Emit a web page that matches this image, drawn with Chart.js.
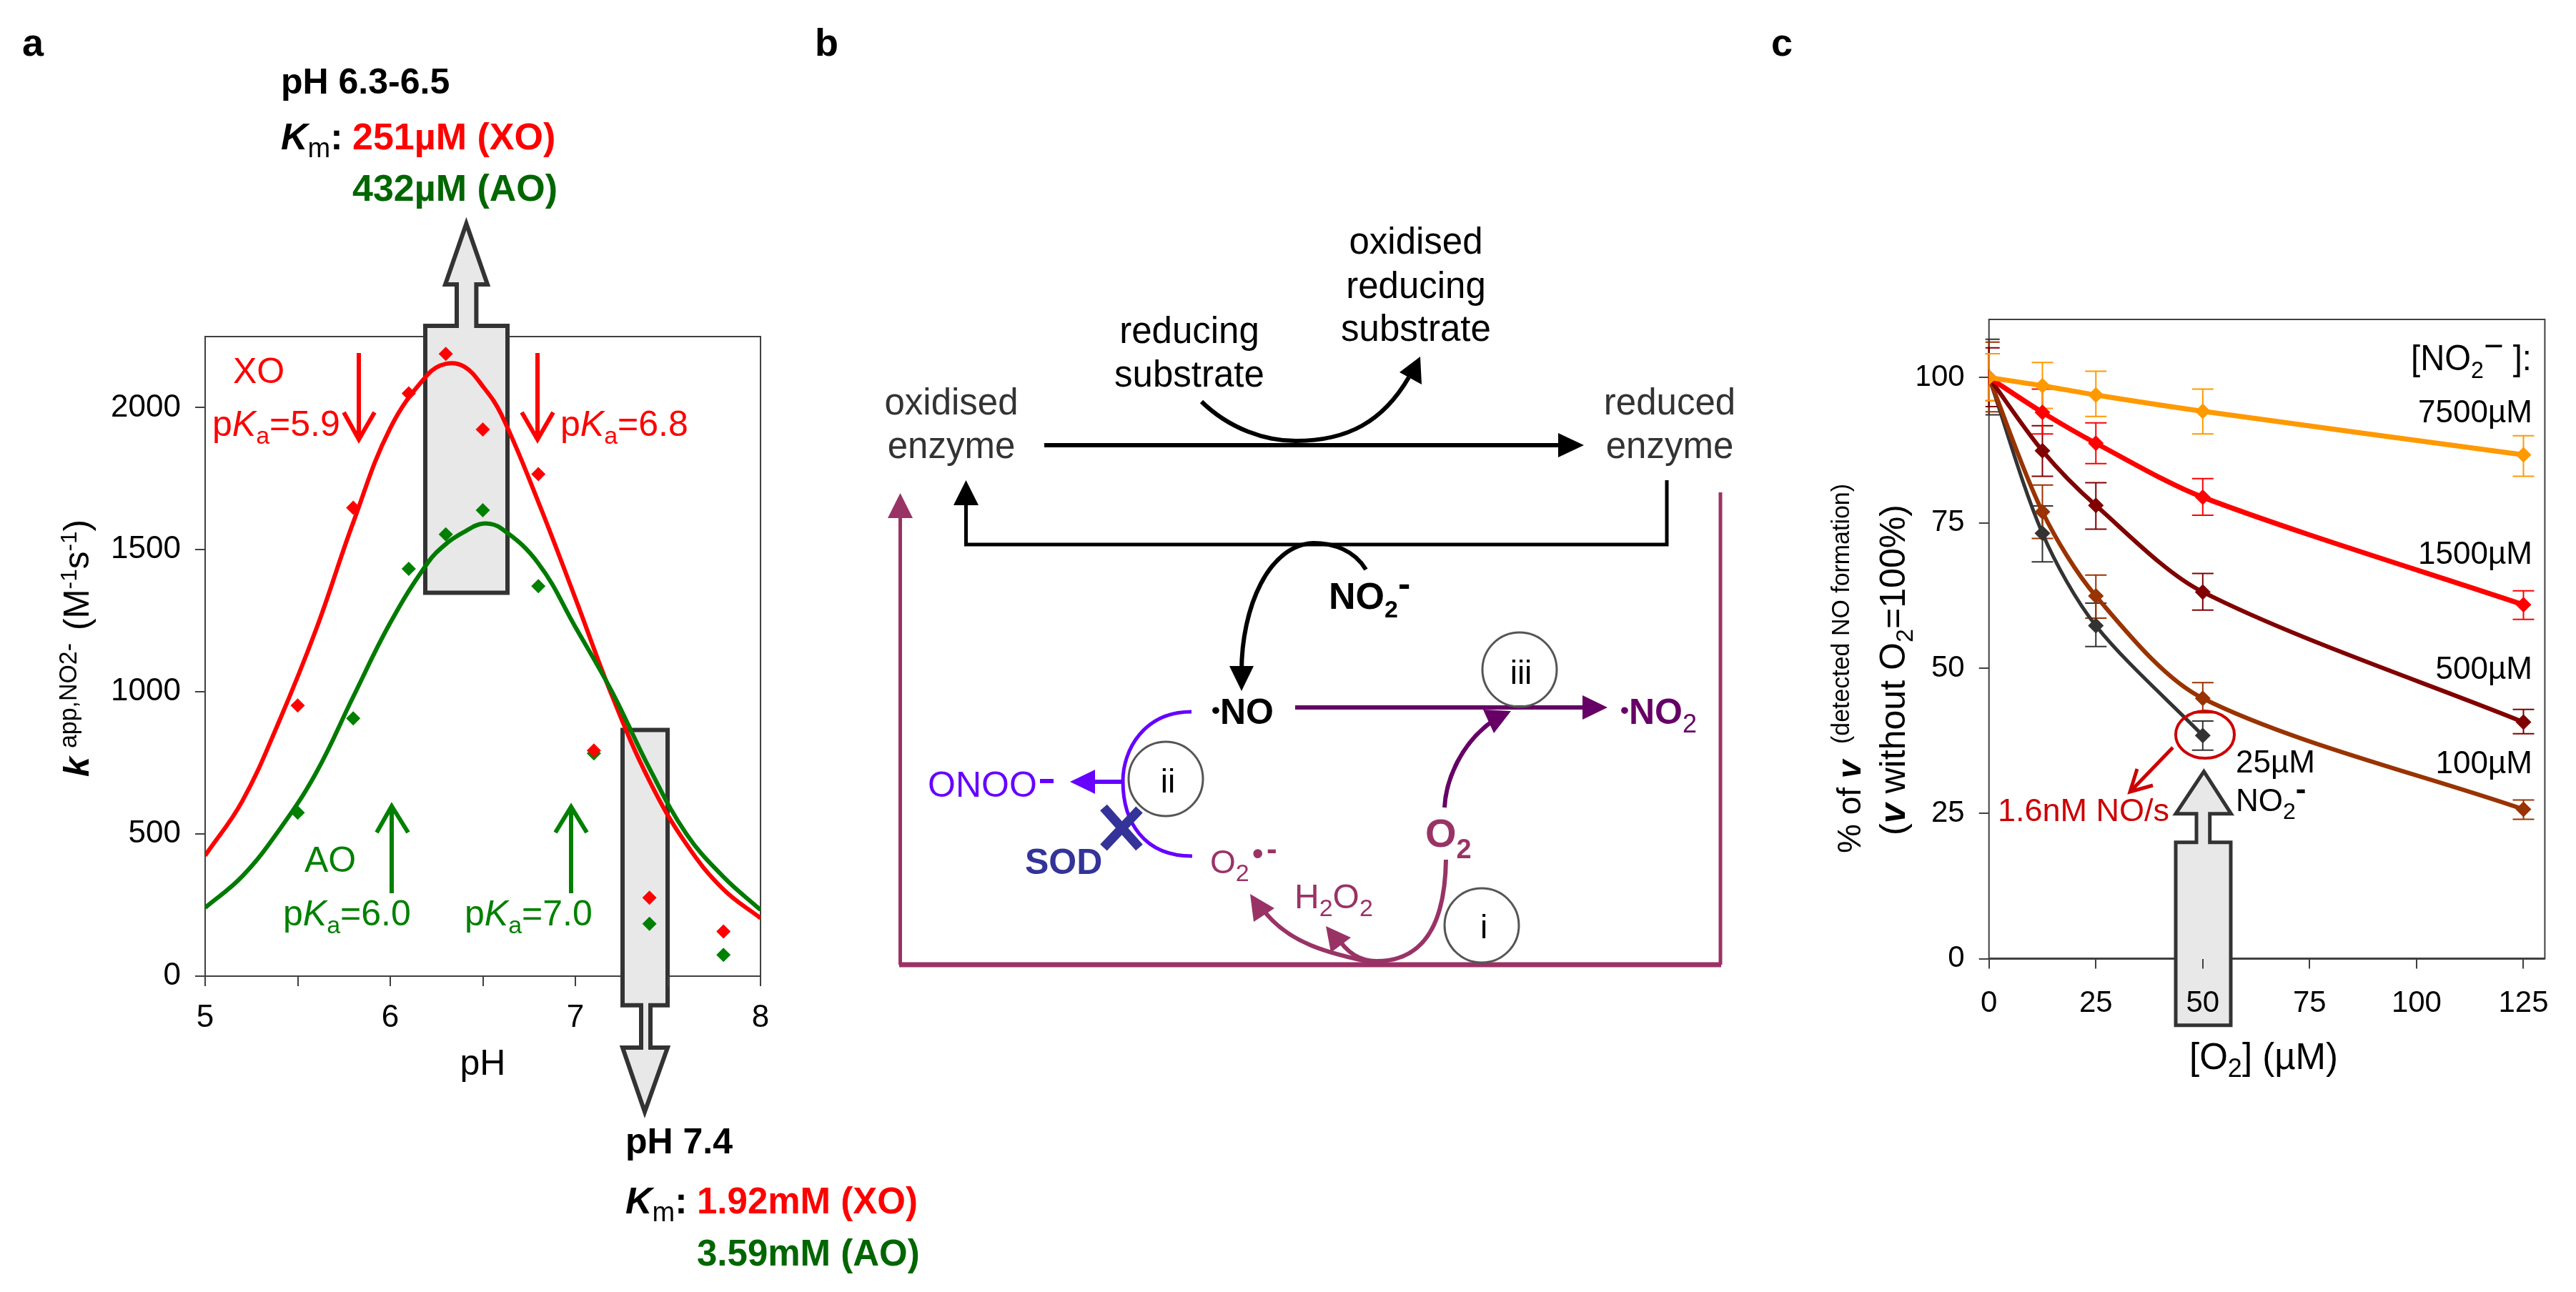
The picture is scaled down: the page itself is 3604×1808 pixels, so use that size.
<!DOCTYPE html>
<html>
<head>
<meta charset="utf-8">
<title>Nitrite reductase activity</title>
<script src="https://cdn.jsdelivr.net/npm/chart.js@4"></script>
<style>
  html, body { margin: 0; background: #fff; }
  #page { position: relative; width: 3604px; height: 1808px; overflow: hidden; }
  canvas, svg { position: absolute; left: 0; top: 0; }
  text { font-family: "Liberation Sans", Arial, sans-serif; font-size: 44px; }
  .b { font-weight: bold; }
  .i { font-style: italic; }
</style>
</head>
<body>
<div id="page">
  <canvas id="chartA" width="3604" height="1808"></canvas>
  <canvas id="chartC" width="3604" height="1808"></canvas>

  <svg width="3604" height="1808" viewBox="0 0 3604 1808">
    <!-- panel letters -->
    <text class="b" x="31" y="78" style="font-size:54px">a</text>
    <text class="b" x="1140" y="78" style="font-size:54px">b</text>
    <text class="b" x="2478" y="78" style="font-size:54px">c</text>

    <!-- panel a: Km notes -->
    <text class="b" x="393" y="131" style="font-size:50px">pH 6.3-6.5</text>
    <text class="b" x="393" y="209" style="font-size:52px"><tspan class="i">K</tspan><tspan dy="11" font-weight="normal" style="font-size:38px">m</tspan><tspan dy="-11">:</tspan></text>
    <text class="b" x="493" y="209" fill="#ff0000" style="font-size:52px">251µM (XO)</text>
    <text class="b" x="493" y="281" fill="#006600" style="font-size:52px">432µM (AO)</text>
    <text class="b" x="875" y="1614" style="font-size:50px">pH 7.4</text>
    <text class="b" x="875" y="1698" style="font-size:52px"><tspan class="i">K</tspan><tspan dy="11" font-weight="normal" style="font-size:38px">m</tspan><tspan dy="-11">:</tspan></text>
    <text class="b" x="975" y="1698" fill="#ff0000" style="font-size:51px">1.92mM (XO)</text>
    <text class="b" x="975" y="1771" fill="#006600" style="font-size:51px">3.59mM (AO)</text>

    <!-- panel a: y title -->
    <g transform="translate(124,1087) rotate(-90)">
      <text class="i b" x="0" y="0" style="font-size:50px">k</text>
      <text x="40" y="-17" textLength="147" lengthAdjust="spacingAndGlyphs" style="font-size:35px">app,NO2-</text>
      <text x="205" y="0" textLength="155" lengthAdjust="spacingAndGlyphs" style="font-size:50px">(M<tspan dy="-17" style="font-size:32px">-1</tspan><tspan dy="17">s</tspan><tspan dy="-17" style="font-size:32px">-1</tspan><tspan dy="17">)</tspan></text>
    </g>

    <!-- panel a: pKa labels and arrows -->
    <g fill="#ff0000">
      <text x="326" y="536" style="font-size:50px">XO</text>
      <text x="297" y="610" style="font-size:50px">p<tspan class="i">K</tspan><tspan dy="11" style="font-size:34px">a</tspan><tspan dy="-11">=5.9</tspan></text>
      <text x="784" y="610" style="font-size:50px">p<tspan class="i">K</tspan><tspan dy="11" style="font-size:34px">a</tspan><tspan dy="-11">=6.8</tspan></text>
    </g>
    <g fill="none" stroke="#ff0000" stroke-width="6">
      <path d="M502 494V615M481 577L502 615L524 577"/>
      <path d="M752 494V615M730 577L752 615L774 577"/>
    </g>
    <g fill="#008000">
      <text x="426" y="1220" style="font-size:50px">AO</text>
      <text x="396" y="1295" style="font-size:50px">p<tspan class="i">K</tspan><tspan dy="11" style="font-size:34px">a</tspan><tspan dy="-11">=6.0</tspan></text>
      <text x="650" y="1295" style="font-size:50px">p<tspan class="i">K</tspan><tspan dy="11" style="font-size:34px">a</tspan><tspan dy="-11">=7.0</tspan></text>
    </g>
    <g fill="none" stroke="#008000" stroke-width="6">
      <path d="M548 1250V1128M527 1165L548 1128L571 1165"/>
      <path d="M799 1250V1129M777 1165L799 1129L821 1165"/>
    </g>

    <!-- panel b: enzyme cycle -->
    <g text-anchor="middle" fill="#000">
      <text x="1981" y="355" style="font-size:51px">oxidised</text>
      <text x="1981" y="417" style="font-size:51px">reducing</text>
      <text x="1981" y="477" style="font-size:51px">substrate</text>
      <text x="1664" y="480" style="font-size:51px">reducing</text>
      <text x="1664" y="541" style="font-size:51px">substrate</text>
      <text x="1331" y="580" fill="#333" style="font-size:51px">oxidised</text>
      <text x="1331" y="641" fill="#333" style="font-size:51px">enzyme</text>
      <text x="2336" y="580" fill="#333" style="font-size:51px">reduced</text>
      <text x="2336" y="641" fill="#333" style="font-size:51px">enzyme</text>
    </g>
    <g fill="none" stroke="#000">
      <path d="M1461 623H2185" stroke-width="6"/>
      <path d="M1681 562C1720 600 1770 617 1813 617C1885 617 1935 590 1971 528" stroke-width="6"/>
      <path d="M2332 672V762H1351.5V700" stroke-width="5"/>
      <path d="M1911 797C1895 770 1865 760 1838 760C1775 762 1737 850 1737 940" stroke-width="6"/>
    </g>
    <g fill="#000" stroke="none">
      <polygon points="2180,606 2216,623 2180,640"/>
      <polygon points="1987,499 1989,538 1958,521"/>
      <polygon points="1351.5,672 1369,707 1334,707"/>
      <polygon points="1737,967 1720,932 1754,932"/>
    </g>
    <text class="b" x="1859" y="852" style="font-size:52px">NO<tspan dy="12" style="font-size:34px">2</tspan><tspan dy="-30">-</tspan></text>

    <g fill="none" stroke="#993366">
      <path d="M1259.5 1350V720" stroke-width="5"/>
      <path d="M2407 689V1350" stroke-width="5"/>
      <path d="M1258 1350H2408" stroke-width="7"/>
      <path d="M2023 1203C2022 1270 2005 1345 1926 1345C1905 1345 1885 1335 1870 1310" stroke-width="6"/>
      <path d="M1930 1349C1860 1335 1800 1320 1765 1270" stroke-width="6"/>
    </g>
    <g fill="#993366">
      <polygon points="1259.5,690 1277,725 1242,725"/>
      <polygon points="1855,1296 1890,1312 1862,1333"/>
      <polygon points="1749,1251 1783,1271 1754,1290"/>
    </g>
    <text x="1693" y="1222" fill="#993366" style="font-size:46px">O<tspan dy="11" style="font-size:34px">2</tspan></text>
    <text x="1752" y="1209" fill="#993366" style="font-size:44px" class="b">•</text>
    <text x="1772" y="1203" fill="#993366" style="font-size:44px" class="b">-</text>
    <text x="1811" y="1271" fill="#993366" style="font-size:48px">H<tspan dy="11" style="font-size:34px">2</tspan><tspan dy="-11">O</tspan><tspan dy="11" style="font-size:34px">2</tspan></text>
    <text class="b" x="1994" y="1185" fill="#993366" style="font-size:56px">O<tspan dy="16" style="font-size:38px">2</tspan></text>

    <text class="b" x="1695" y="1013" style="font-size:50px"><tspan dy="-8" style="font-size:34px">•</tspan><tspan dy="8">NO</tspan></text>
    <g fill="none" stroke="#660066">
      <path d="M1812 990H2216" stroke-width="6"/>
      <path d="M2021 1130C2023 1090 2045 1040 2087 1010" stroke-width="6"/>
    </g>
    <g fill="#660066">
      <polygon points="2214,973 2249,990 2214,1007"/>
      <polygon points="2075,993 2114,995 2090,1026"/>
    </g>
    <text class="b" x="2267" y="1013" fill="#660066" style="font-size:50px"><tspan dy="-8" style="font-size:34px">•</tspan><tspan dy="8">NO</tspan><tspan dy="12" font-weight="normal" style="font-size:36px">2</tspan></text>

    <path d="M1667 996C1600 996 1571 1050 1571 1093C1571 1150 1600 1198 1668 1198" fill="none" stroke="#6600ff" stroke-width="5"/>
    <path d="M1571 1094H1530" fill="none" stroke="#6600ff" stroke-width="6"/>
    <polygon points="1532,1077 1497,1094 1532,1111" fill="#6600ff"/>
    <text x="1298" y="1115" fill="#6600ff" style="font-size:50px">ONOO</text>
    <rect x="1455" y="1090" width="19" height="6" fill="#6600ff"/>

    <path d="M1544 1130L1594 1186M1594 1133L1544 1186" fill="none" stroke="#333399" stroke-width="13"/>
    <text class="b" x="1434" y="1223" fill="#333399" style="font-size:50px">SOD</text>

    <g fill="none" stroke="#555" stroke-width="3">
      <circle cx="2126" cy="937" r="52"/>
      <circle cx="1631" cy="1090" r="52"/>
      <circle cx="2073" cy="1295" r="52"/>
    </g>
    <g text-anchor="middle">
      <text x="2128" y="957" style="font-size:46px">iii</text>
      <text x="1634" y="1109" style="font-size:46px">ii</text>
      <text x="2076" y="1313" style="font-size:46px">i</text>
    </g>

    <!-- panel c labels -->
    <g transform="translate(2603,1194) rotate(-90)">
      <text x="0" y="0" style="font-size:46px">% of <tspan class="i b">v</tspan></text>
      <text x="153" y="-16" textLength="364" lengthAdjust="spacingAndGlyphs" style="font-size:35px">(detected NO formation)</text>
    </g>
    <g transform="translate(2665,1169) rotate(-90)">
      <text x="0" y="0" textLength="463" lengthAdjust="spacingAndGlyphs" style="font-size:50px">(<tspan class="i b">v</tspan> without O<tspan dy="11" style="font-size:34px">2</tspan><tspan dy="-11">=100%)</tspan></text>
    </g>
    <text x="3373" y="518" textLength="169" lengthAdjust="spacingAndGlyphs" style="font-size:50px">[NO<tspan dy="11" style="font-size:34px">2</tspan><tspan dy="-28">−</tspan><tspan dy="17"> ]:</tspan></text>
    <g text-anchor="end">
      <text x="3543" y="591">7500µM</text>
      <text x="3543" y="789">1500µM</text>
      <text x="3543" y="950">500µM</text>
      <text x="3543" y="1082">100µM</text>
    </g>
    <text x="3128" y="1081">25µM</text>
    <text x="3128" y="1135">NO<tspan dy="11" style="font-size:32px">2</tspan><tspan dy="-27" class="b">-</tspan></text>
    <text x="2795" y="1149" fill="#cc0000" style="font-size:45px">1.6nM NO/s</text>
    <ellipse cx="3085" cy="1028" rx="41" ry="33" fill="none" stroke="#cc0000" stroke-width="4"/>
    <path d="M3040 1046L2984 1104M2990 1076L2980 1108L3012 1099" fill="none" stroke="#cc0000" stroke-width="5"/>
    <text x="3063" y="1496" style="font-size:51px">[O<tspan dy="11" style="font-size:36px">2</tspan><tspan dy="-11">] (µM)</tspan></text>
  </svg>
</div>

<script>
// panel a: measured rates
const pHPoints = [5.5, 5.8, 6.1, 6.3, 6.5, 6.8, 7.1, 7.4, 7.8];
const xoPoints = [952, 1648, 2050, 2189, 1923, 1766, 794, 276, 157];
const aoPoints = [575, 907, 1433, 1554, 1639, 1372, 784, 184, 75];

// panel a: fitted curves
const pHCurve = [5, 5.2, 5.4, 5.6, 5.8, 6, 6.2, 6.3, 6.4, 6.5, 6.6, 6.8, 7, 7.2, 7.4, 7.6, 7.8, 8];
const xoCurve = [424, 615, 897, 1221, 1596, 1928, 2115, 2154, 2144, 2075, 1976, 1668, 1329, 983, 687, 464, 305, 204];
const aoCurve = [241, 351, 514, 716, 983, 1243, 1452, 1520, 1563, 1592, 1575, 1452, 1228, 998, 731, 500, 349, 233];

const pHTicks = [5, 6, 7, 8];
const rateTicks = [0, 500, 1000, 1500, 2000];

// panel c: % of v against [O2]
const o2Values = [0, 12.5, 25, 50, 125];
const series7500 = [100, 98.6, 97, 94.2, 86.7];
const series1500 = [100, 94, 88.7, 79.4, 60.9];
const series500 = [100, 87.4, 78, 63.1, 40.7];
const series100 = [100, 76.9, 62.4, 44.8, 25.7];
const series25 = [100, 73.2, 57.3, 38.4];

// error bar ends for panel c
const high7500 = [104.1, 102.6, 101.1, 98, 90];
const low7500 = [96, 94.7, 93.3, 90.3, 83];
const high1500 = [104.1, 98, 92.2, 82.6, 63.3];
const low1500 = [96, 90.3, 85.2, 76.3, 58.4];
const high500 = [105.1, 91.7, 81.9, 66.3, 42.9];
const low500 = [95, 83, 73.9, 60, 38.7];
const high100 = [106.1, 81.5, 66, 47.5, 27.3];
const low100 = [94.1, 72.3, 58.6, 42.3, 24];
const high25 = [106.6, 77.9, 61.2, 40.9];
const low25 = [93.6, 68.3, 53.7, 35.9];

const axisColor = '#404040';

// grey block arrows, page pixels
const arrowsA = [
    [[595, 829.5], [595, 456], [639, 456], [639, 398], [623, 398], [652.4, 313], [682, 398], [666.4, 398], [666.4, 456], [710, 456], [710, 829.5]],
    [[871, 1021.6], [934, 1021.6], [934, 1406.7], [910, 1406.7], [910, 1466], [934, 1466], [902, 1556], [871, 1466], [897, 1466], [897, 1406.7], [871, 1406.7]]
];
const arrowsC = [
    [[3044, 1434.7], [3044, 1178.8], [3073, 1178.8], [3073, 1138.8], [3044, 1138.8], [3083.4, 1079.6], [3121.5, 1138.8], [3091.7, 1138.8], [3091.7, 1178.8], [3121, 1178.8], [3121, 1434.7]]
];

// Draw the plot frame, then the grey arrows on top of it, before ticks and labels
function frameAndArrows(arrows, bottomWidth, strokeWidth) {
    return {
        id: 'frameAndArrows',
        beforeDraw(chart) {
            const { ctx, chartArea: a } = chart;
            ctx.save();
            ctx.strokeStyle = axisColor;
            ctx.lineWidth = 2;
            ctx.strokeRect(a.left, a.top, a.right - a.left, a.bottom - a.top);
            ctx.lineWidth = bottomWidth;
            ctx.beginPath();
            ctx.moveTo(a.left, a.bottom);
            ctx.lineTo(a.right, a.bottom);
            ctx.stroke();
            arrows.forEach(pts => {
                ctx.beginPath();
                pts.forEach((p, i) => i ? ctx.lineTo(p[0], p[1]) : ctx.moveTo(p[0], p[1]));
                ctx.closePath();
                ctx.fillStyle = '#e8e8e8';
                ctx.fill();
                ctx.strokeStyle = '#333333';
                ctx.lineWidth = strokeWidth;
                ctx.lineJoin = 'miter';
                ctx.stroke();
            });
            ctx.restore();
        }
    };
}

// Error bars for panel c, drawn under the lines
const errorBars = {
    id: 'errorBars',
    beforeDatasetsDraw(chart) {
        const { ctx, scales, chartArea } = chart;
        ctx.save();
        chart.data.datasets.slice().reverse().forEach(ds => {
            ctx.strokeStyle = ds.borderColor;
            ctx.lineWidth = 2;
            ds.data.forEach((p, i) => {
                const x = scales.x.getPixelForValue(p.x);
                const top = scales.y.getPixelForValue(ds.errHigh[i]);
                const bottom = scales.y.getPixelForValue(ds.errLow[i]);
                const left = Math.max(x - 15, chartArea.left - 5);
                ctx.beginPath();
                ctx.moveTo(x, top);
                ctx.lineTo(x, bottom);
                ctx.moveTo(left, top);
                ctx.lineTo(x + 15, top);
                ctx.moveTo(left, bottom);
                ctx.lineTo(x + 15, bottom);
                ctx.stroke();
            });
        });
        ctx.restore();
    }
};

function toPoints(xs, ys) {
    return ys.map((y, i) => ({ x: xs[i], y: y }));
}

function pointSet(label, xs, ys, color) {
    return {
        label, data: toPoints(xs, ys), showLine: false,
        pointStyle: 'rectRot', pointRadius: 10, pointBackgroundColor: color, pointBorderWidth: 0,
        borderColor: color
    };
}

function curveSet(label, xs, ys, color) {
    return {
        label, data: toPoints(xs, ys), borderColor: color, borderWidth: 6,
        pointRadius: 0, tension: 0.4, fill: false
    };
}

function seriesSet(label, ys, high, low, color, width) {
    return {
        label, data: toPoints(o2Values, ys), errHigh: high, errLow: low,
        borderColor: color, borderWidth: width, tension: 0.3, fill: false,
        pointStyle: 'rectRot', pointRadius: 11, pointBackgroundColor: color, pointBorderWidth: 0
    };
}

function axis(min, max, step, fontSize, extra) {
    return Object.assign({
        type: 'linear', min, max,
        border: { display: false },
        grid: { drawOnChartArea: false, drawTicks: true, tickLength: 14, color: axisColor, lineWidth: 2 },
        ticks: {
            stepSize: step, includeBounds: false, autoSkip: false, maxRotation: 0,
            color: '#000', font: { family: 'Liberation Sans', size: fontSize }, padding: 20
        }
    }, extra);
}

const chartAScales = {
    x: axis(5, 8, 0.5, 44, {
        afterFit(s) { s.height = 154; },
        title: { display: true, text: 'pH', color: '#000', font: { family: 'Liberation Sans', size: 50 }, padding: { top: 6, bottom: 0 } }
    }),
    y: axis(0, 2250, 500, 44, {
        afterFit(s) { s.width = 160; },
        afterBuildTicks(s) { s.ticks = rateTicks.map(value => ({ value })); }
    })
};
chartAScales.x.ticks.callback = v => pHTicks.includes(v) ? String(v) : '';
chartAScales.x.ticks.padding = 18;
chartAScales.y.ticks.callback = v => String(v);

new Chart(document.getElementById('chartA'), {
    type: 'line',
    data: {
        datasets: [
            pointSet('XO measured', pHPoints, xoPoints, '#ff0000'),
            pointSet('AO measured', pHPoints, aoPoints, '#008000'),
            curveSet('AO fit', pHCurve, aoCurve, '#007a00'),
            curveSet('XO fit', pHCurve, xoCurve, '#ff0000')
        ]
    },
    options: {
        responsive: false, animation: false, devicePixelRatio: 1,
        layout: { padding: { left: 127, top: 471, right: 2540, bottom: 288 } },
        plugins: { legend: { display: false }, tooltip: { enabled: false } },
        scales: chartAScales
    },
    plugins: [frameAndArrows(arrowsA, 2, 6)]
});

const chartCScales = {
    x: axis(0, 130, 25, 42, { afterFit(s) { s.height = 100; } }),
    y: axis(0, 110, 25, 42, { afterFit(s) { s.width = 100; } })
};
chartCScales.x.ticks.padding = 24;

new Chart(document.getElementById('chartC'), {
    type: 'line',
    data: {
        datasets: [
            seriesSet('7500µM', series7500, high7500, low7500, '#ff9900', 7),
            seriesSet('1500µM', series1500, high1500, low1500, '#ff0000', 7),
            seriesSet('500µM', series500, high500, low500, '#800000', 6),
            seriesSet('100µM', series100, high100, low100, '#993300', 6),
            seriesSet('25µM', series25, high25, low25, '#333333', 5)
        ]
    },
    options: {
        responsive: false, animation: false, devicePixelRatio: 1,
        layout: { padding: { left: 2682.7, top: 447, right: 43.6, bottom: 366.4 } },
        plugins: { legend: { display: false }, tooltip: { enabled: false } },
        scales: chartCScales
    },
    plugins: [frameAndArrows(arrowsC, 3, 5), errorBars]
});
</script>
</body>
</html>
